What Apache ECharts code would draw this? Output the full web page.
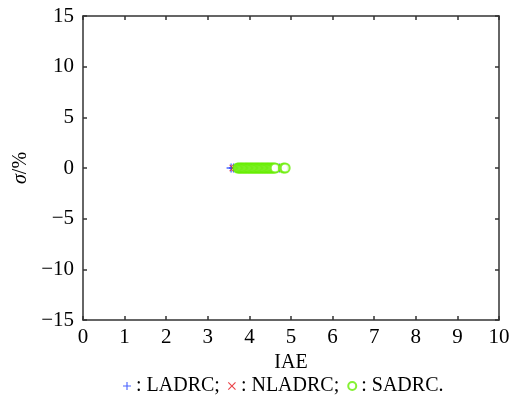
<!DOCTYPE html>
<html>
<head>
<meta charset="utf-8">
<script src="https://cdn.jsdelivr.net/npm/echarts@6/dist/echarts.min.js"></script>
<style>
  html, body {margin: 0; padding: 0; background: #fff;}
  #chart {width: 516px; height: 397px;}
</style>
</head>
<body>
<div id="chart"></div>
<script>
// IAE values per controller, sigma (%) is ~0 for all runs
const ladrcIAE = [3.56, 3.62, 3.7, 3.78, 3.85, 3.92, 4.0, 4.08, 4.15, 4.22, 4.3, 4.38, 4.45, 4.52, 4.6, 4.66, 4.72];
const ladrcSigma = [0, 0, 0, 0, 0, 0, 0, 0, 0, 0, 0, 0, 0, 0, 0, 0, 0];
const nladrcIAE = [3.6, 3.66, 3.74, 3.82, 3.9, 3.98, 4.06, 4.14, 4.22, 4.3, 4.38, 4.46, 4.54, 4.62, 4.67, 4.71];
const nladrcSigma = [0, 0, 0, 0, 0, 0, 0, 0, 0, 0, 0, 0, 0, 0, 0, 0];
const sadrcIAE = [3.72, 3.75, 3.78, 3.81, 3.84, 3.87, 3.9, 3.93, 3.96, 3.99, 4.02, 4.05, 4.08, 4.11, 4.14, 4.17,
  4.2, 4.23, 4.26, 4.29, 4.32, 4.35, 4.38, 4.41, 4.44, 4.47, 4.5, 4.53, 4.56, 4.59, 4.62, 4.82, 4.86];
const sadrcSigma = [0, 0, 0, 0, 0, 0, 0, 0, 0, 0, 0, 0, 0, 0, 0, 0,
  0, 0, 0, 0, 0, 0, 0, 0, 0, 0, 0, 0, 0, 0, 0, 0, 0];
const seriesNames = ['LADRC', 'NLADRC', 'SADRC'];

const font = 'Liberation Serif';
const axisColor = '#333';
const zip = (xs, ys) => xs.map((x, i) => [x, ys[i]]);
const minus = v => String(v).replace('-', '\u2212');

const plusPath = 'path://M4.3,0H5.7V4.3H10V5.7H5.7V10H4.3V5.7H0V4.3H4.3Z';
const crossPath = 'path://M1,0L5,4L9,0L10,1L6,5L10,9L9,10L5,6L1,10L0,9L4,5L0,1Z';

const chart = echarts.init(document.getElementById('chart'));
const baseAxis = {
    axisLine: {show: true, onZero: false, lineStyle: {color: axisColor, width: 1.5}},
    axisTick: {show: true, inside: true, length: 4, lineStyle: {color: axisColor, width: 1.5}},
    splitLine: {show: false},
};
chart.setOption({
    animation: false,
    textStyle: {fontFamily: font},
    grid: {left: 83, right: 17, top: 16, bottom: 77, containLabel: false, outerBoundsMode: 'none'},
    xAxis: [{
        ...baseAxis,
        type: 'value', min: 0, max: 10, interval: 1,
        name: 'IAE', nameLocation: 'middle', nameGap: 32,
        nameTextStyle: {fontFamily: font, fontSize: 20, color: '#000'},
        axisLabel: {fontFamily: font, fontSize: 21, color: '#000', margin: 7}
    }, {
        ...baseAxis,
        type: 'value', min: 0, max: 10, interval: 1, position: 'top',
        axisLabel: {show: false}
    }],
    yAxis: [{
        ...baseAxis,
        type: 'value', min: -15, max: 15, interval: 5,
        name: '{i|σ}/%', nameLocation: 'middle', nameGap: 51, nameRotate: 90,
        nameTextStyle: {
            fontFamily: font, fontSize: 20, color: '#000',
            rich: {i: {fontFamily: font, fontSize: 20, fontStyle: 'italic', color: '#000'}}
        },
        axisLabel: {fontFamily: font, fontSize: 21, color: '#000', margin: 9, formatter: minus}
    }, {
        ...baseAxis,
        type: 'value', min: -15, max: 15, interval: 5, position: 'right',
        axisLabel: {show: false}
    }],
    legend: {
        bottom: -4, left: 118,
        itemWidth: 8, itemHeight: 8, itemGap: 8,
        textStyle: {fontFamily: font, fontSize: 20, color: '#000'},
        formatter: name => ': ' + name + (name === 'SADRC' ? '.' : ';'),
        data: seriesNames
    },
    series: [{
        name: seriesNames[0], type: 'scatter',
        symbol: plusPath, symbolSize: 9,
        itemStyle: {color: '#1d3cff'},
        data: zip(ladrcIAE, ladrcSigma)
    }, {
        name: seriesNames[1], type: 'scatter',
        symbol: crossPath, symbolSize: 7,
        itemStyle: {color: '#e5141c'},
        data: zip(nladrcIAE, nladrcSigma)
    }, {
        name: seriesNames[2], type: 'scatter',
        symbol: 'emptyCircle', symbolSize: 9,
        itemStyle: {color: '#66ee00', borderColor: '#66ee00', borderWidth: 1.5},
        data: zip(sadrcIAE, sadrcSigma)
    }]
});
</script>
</body>
</html>
